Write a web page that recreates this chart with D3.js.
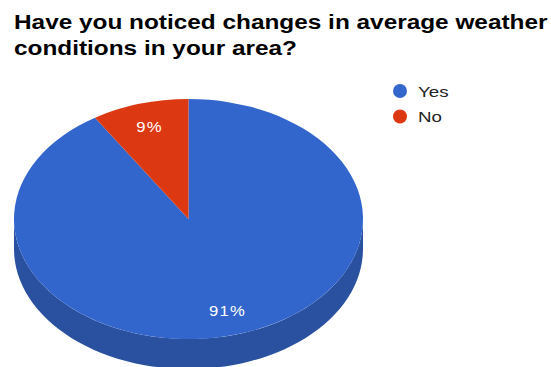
<!DOCTYPE html>
<html>
<head>
<meta charset="utf-8">
<script src="https://cdn.jsdelivr.net/npm/d3@7"></script>
<style>
  html, body { margin: 0; padding: 0; background: #fff; }
  svg { display: block; font-family: "Liberation Sans", Arial, sans-serif; }
</style>
</head>
<body>
<svg id="chart" width="551" height="367"></svg>
<script>
// Survey answers and their shares (percent)
const categories = ["Yes", "No"];
const values = [91, 9];
const colors = ["#3366cc", "#dc3912"];
const sideColors = ["#2a519f", "#a82c0e"];
const titleLines = ["Have you noticed changes in average weather", "conditions in your area?"];

// Text in this chart is set slightly wide
const stretch = 1.25;

const svg = d3.select("#chart");

// Title
titleLines.forEach((line, i) => {
  svg.append("text")
    .attr("transform", `translate(14,${29 + i * 26}) scale(${stretch},1)`)
    .attr("font-size", 19.5)
    .attr("font-weight", "bold")
    .attr("fill", "#000")
    .text(line);
});

// Tilted (3D) pie geometry
const cx = 188.5, cy = 219, rx = 174.5, ry = 120, depth = 30;

const pie = d3.pie().sort(null).value(d => d)(values);

// Point on the ellipse; angle measured clockwise from 12 o'clock
const pt = (a, dy = 0) => [cx + rx * Math.sin(a), cy - ry * Math.cos(a) + dy];
const f = p => p[0].toFixed(2) + "," + p[1].toFixed(2);

// Side walls: only the front half (angles between PI/2 and 3PI/2) is visible
const sides = svg.append("g");
pie.forEach((s, i) => {
  const a0 = Math.max(s.startAngle, Math.PI / 2);
  const a1 = Math.min(s.endAngle, 3 * Math.PI / 2);
  if (a1 <= a0) return;
  const steps = 60;
  const top = d3.range(steps + 1).map(k => pt(a0 + (a1 - a0) * k / steps));
  const bottom = d3.range(steps + 1).map(k => pt(a1 - (a1 - a0) * k / steps, depth));
  sides.append("path")
    .attr("d", "M" + top.concat(bottom).map(f).join("L") + "Z")
    .attr("fill", sideColors[i]);
});

// Top faces
const faces = svg.append("g");
pie.forEach((s, i) => {
  const p0 = pt(s.startAngle), p1 = pt(s.endAngle);
  const large = (s.endAngle - s.startAngle) > Math.PI ? 1 : 0;
  faces.append("path")
    .attr("d", `M${cx},${cy}L${f(p0)}A${rx},${ry} 0 ${large} 1 ${f(p1)}Z`)
    .attr("fill", colors[i]);
});

// Percentage labels
pie.forEach((s, i) => {
  const mid = (s.startAngle + s.endAngle) / 2;
  const x = cx + rx * 0.8 * Math.sin(mid);
  const y = cy - ry * 0.8 * Math.cos(mid);
  svg.append("text")
    .attr("transform", `translate(${x.toFixed(2)},${(y + 5).toFixed(2)}) scale(1.15,1)`)
    .attr("text-anchor", "middle")
    .attr("font-size", 14.5)
    .attr("letter-spacing", 1)
    .attr("fill", "#ffffff")
    .text(values[i] + "%");
});

// Legend
const legend = svg.append("g");
categories.forEach((c, i) => {
  const y = 91 + i * 25.5;
  legend.append("circle")
    .attr("cx", 400).attr("cy", y).attr("r", 7)
    .attr("fill", colors[i]);
  legend.append("text")
    .attr("transform", `translate(418,${y + 5.5}) scale(${stretch},1)`)
    .attr("font-size", 15)
    .attr("fill", "#222")
    .text(c);
});
</script>
</body>
</html>
